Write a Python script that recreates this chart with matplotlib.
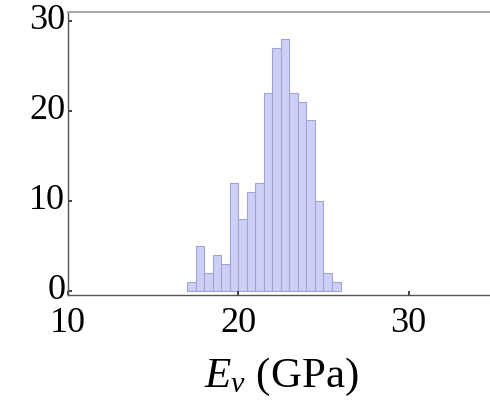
import numpy as np
import matplotlib
matplotlib.use("Agg")
import matplotlib.pyplot as plt

# Histogram of E_v: bin edges (GPa) and counts per bin
bin_edges = [17.0, 17.5, 18.0, 18.5, 19.0, 19.5, 20.0, 20.5, 21.0, 21.5,
             22.0, 22.5, 23.0, 23.5, 24.0, 24.5, 25.0, 25.5, 26.0]
counts = [1, 5, 2, 4, 3, 12, 8, 11, 12, 22, 27, 28, 22, 21, 19, 10, 2, 1]

x_ticks = [10, 20, 30]
y_ticks = [0, 10, 20, 30]

plt.rcParams['font.family'] = ['Liberation Serif', 'DejaVu Serif']
plt.rcParams['mathtext.fontset'] = 'custom'
plt.rcParams['mathtext.it'] = 'Liberation Serif:italic'
plt.rcParams['mathtext.rm'] = 'Liberation Serif'

fig = plt.figure(figsize=(4.9, 4.0), dpi=100)
ax = fig.add_axes([68 / 490, 1 - 295 / 400, (490 - 68) / 490 + 0.01, (295 - 12) / 400])

edges = np.array(bin_edges)
ax.bar(edges[:-1], counts, width=np.diff(edges), align='edge',
       color='#cdd0f6', edgecolor='#a0a5d8', linewidth=0.8, bottom=0)

ax.set_xlim(10, 10 + (490 - 68) / 17.25 + 0.6)
ax.set_ylim(-0.45, 31.0)

ax.set_xticks(x_ticks)
ax.set_yticks(y_ticks)
ax.tick_params(direction='in', length=3, width=1.2, labelsize=26,
               color='#222222')
ax.tick_params(axis='y', pad=2)
ax.tick_params(axis='x', pad=9)
for lbl in ax.get_yticklabels():
    lbl.set_verticalalignment('center')

for side in ['left', 'bottom']:
    ax.spines[side].set_color('#555555')
    ax.spines[side].set_linewidth(1.0)
ax.spines['top'].set_color('#aaaaaa')
ax.spines['top'].set_linewidth(1.5)
ax.spines['right'].set_visible(False)

ax.set_xlabel(r'$E_v$ (GPa)', fontsize=31, labelpad=11)

fig.savefig('out.png', dpi=100)
